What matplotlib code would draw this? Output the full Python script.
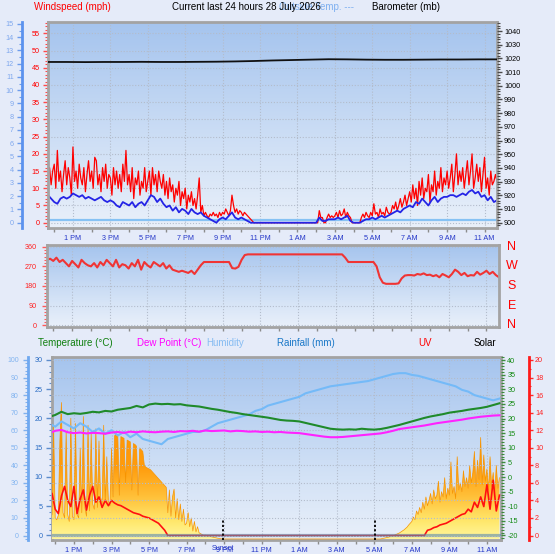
import numpy as np
import matplotlib.pyplot as plt
import matplotlib.transforms as mtransforms
from matplotlib.colors import LinearSegmentedColormap
from matplotlib.ticker import MultipleLocator

plt.rcParams['font.family'] = ['Liberation Sans', 'DejaVu Sans']
plt.rcParams['axes.unicode_minus'] = False

W, H = 555, 554

# time axis: hours since midnight of the first day
T0 = 11 + 40 / 60          # first sample 11:40
hour_ticks = [13, 15, 17, 19, 21, 23, 25, 27, 29, 31, 33, 35]
hour_labels = ['1 PM', '3 PM', '5 PM', '7 PM', '9 PM', '11 PM',
               '1 AM', '3 AM', '5 AM', '7 AM', '9 AM', '11 AM']
sunset = 20 + 56 / 60
sunrise = 29 + 2 / 60

# wind gust, 5 min samples (mph)
gust = [
    13, 16, 11, 15,
    17, 10, 21, 12, 15, 9, 14, 18, 11, 16, 13, 8,
    22, 12, 15, 10, 17, 13, 11, 16, 9, 14, 18, 12,
    15, 10, 19, 18, 11, 14, 9, 16, 12, 17, 10, 14,
    13, 8, 16, 11, 15, 10, 14, 9, 17, 12, 21, 11,
    14, 9, 16, 7, 13, 11, 15, 8, 12, 10, 16, 9,
    12, 15, 8, 16, 11, 14, 9, 15, 12, 10, 14, 8,
    12, 7, 13, 9, 11, 6, 10, 8, 12, 5, 9, 7,
    10, 4, 8, 6, 9, 5, 7, 4, 8, 13, 3, 5,
    2, 3, 2, 1.5, 2.5, 2, 3, 2, 2.5, 1.5, 3, 2,
    3, 2.5, 4, 3, 2, 3.5, 8, 5, 3, 4, 2.5, 3.5,
    3, 2, 3, 2.5, 2, 1.5, 1, 0.5, 0, 0, 0, 0,
    0, 0, 0, 0, 0, 0, 0, 0, 0, 0, 0, 0,
    0, 0, 0, 0, 0, 0, 0, 0, 0, 0, 0, 0,
    0, 0, 0, 0, 0, 0, 0, 0, 0, 0, 0, 0,
    0, 0, 3.5, 1.5, 1.5, 0, 0, 1.5, 2.5, 1.5, 2, 1.5,
    2, 3, 1.5, 3.5, 2, 2.5, 4, 1.5, 3, 2, 1.5, 0,
    0, 0, 0, 0, 0, 1.5, 2.5, 1.5, 3, 2, 1.5, 3,
    2, 5.5, 2.5, 3, 1.5, 4, 2.5, 3, 2, 4.5, 3, 2.5,
    3, 5, 4, 6, 3.5, 5, 7, 4.5, 6, 8, 5, 7,
    9, 6, 11, 7, 10, 5, 12, 8, 13, 7, 10, 9,
    14, 6, 11, 9, 15, 8, 12, 10, 16, 9, 13, 11,
    15, 10, 13, 17, 9, 14, 20, 11, 15, 12, 16, 10,
    14, 18, 11, 15, 20, 10, 13, 17, 12, 16, 9, 14,
    19, 10, 13, 8, 15, 11, 12, 14, 12,
]
# average wind, 10 min samples (mph)
wind_avg = [
    8, 7,
    6, 5.5, 7, 7.5, 7, 7.5,
    8.5, 8, 7.5, 8, 7, 7.5,
    7, 6.5, 7, 7.5, 6.5, 6,
    6.5, 6, 5, 4.5, 6, 5.5,
    5, 6, 4.5, 5.5, 6, 5,
    6.5, 8, 7.5, 6, 7, 5.5,
    4.5, 5, 3.5, 4.5, 3, 4,
    3.5, 2.5, 4, 3, 2.5, 3,
    2, 1.5, 1, 0.5, 0, 1,
    1.5, 1, 2, 3, 1.5, 1,
    1.5, 1, 0.5, 0, 0, 0,
    0, 0, 0, 0, 0, 0,
    0, 0, 0, 0, 0, 0,
    0, 0, 0, 0, 0, 0,
    0, 1.5, 0.5, 0.5, 1, 1,
    1, 1.5, 1, 1.5, 2, 0.5,
    0, 0, 0, 0.5, 1, 1,
    1.5, 1, 1.5, 2, 1.5, 2,
    2.5, 3, 3.5, 3, 4, 4.5,
    5, 4.5, 6, 5.5, 7, 6,
    5, 6.5, 7.5, 6, 7, 7.5,
    7.5, 8, 8, 7.5, 8, 8.5,
    8, 9, 9.5, 8.5, 9, 7.5,
    8, 6.5, 7.5, 6, 6.5,
]
calm_level = 0.9
# barometer, hourly (mb)
baro = [1017.4, 1017.4, 1017.3, 1017.4, 1017.4, 1017.5, 1017.4, 1017.4,
        1017.5, 1017.6, 1017.8, 1018.1, 1018.5, 1018.8, 1019.1, 1019.4,
        1019.3, 1019.1, 1019.0, 1019.0, 1019.1, 1019.2, 1019.2, 1019.3, 1019.3]

# wind direction, 10 min samples (deg)
wind_dir = [
    300, 305,
    295, 310, 290, 300, 285, 270,
    295, 280, 265, 300, 285, 275,
    270, 285, 265, 290, 275, 300,
    285, 270, 300, 265, 280, 275,
    260, 285, 270, 300, 255, 290,
    275, 265, 290, 280, 270, 285,
    260, 275, 255, 250, 245, 250,
    245, 240, 250, 235, 255, 275,
    290, 290, 290, 290, 290, 290,
    290, 290, 290, 262, 260, 268,
    300, 322, 325, 325, 325, 325,
    325, 325, 325, 325, 325, 325,
    325, 325, 325, 325, 325, 325,
    325, 325, 325, 325, 325, 325,
    325, 325, 325, 325, 325, 325,
    325, 325, 325, 310, 290, 290,
    290, 290, 290, 290, 290, 290,
    290, 270, 220, 195, 190, 190,
    190, 190, 192, 215, 228, 230,
    230, 228, 235, 232, 238, 230,
    232, 225, 230, 220, 235, 228,
    220, 235, 255, 245, 230, 240,
    225, 230, 228, 245, 232, 240,
    250, 235, 245, 230, 220,
]
compass_deg = [360, 270, 180, 90, 0]
compass_lab = ['N', 'W', 'S', 'E', 'N']

# temperature, dew point (C) and humidity (%), 20 min samples
temp = [20.5, 21.2, 22.3, 21.5, 21.8, 21.6, 21.9, 22.3, 22.1, 22.6,
        22.4, 23.0, 23.3, 23.6, 24.3, 23.8, 24.8, 25.1, 24.9, 25.0,
        24.8, 24.9, 24.5, 24.3, 24.1, 23.7, 23.3, 23.0, 22.6, 22.2,
        21.9, 21.5, 21.2, 20.9, 20.6, 20.3, 19.9, 19.5, 19.3, 19.2,
        19.0, 18.5, 18.0, 17.5, 17.0, 16.5, 16.3, 16.2, 16.3, 16.2,
        16.5, 16.3, 16.2, 16.4, 16.8, 17.3, 17.8, 18.4, 19.0, 19.6,
        20.2, 20.7, 21.1, 21.5, 22.0, 22.3, 22.6, 23.0, 23.3, 23.6,
        24.0, 24.6, 25.2]
dew = [14.9, 15.8, 16.1, 15.3, 15.0, 15.2, 14.9, 15.1, 15.0, 14.8,
       15.2, 15.4, 15.1, 15.5, 15.3, 15.6, 15.4, 15.3, 15.5, 15.6,
       15.4, 15.7, 15.6, 15.8, 15.5, 15.9, 15.7, 15.8, 15.9, 15.6,
       15.8, 15.7, 15.5, 15.6, 15.4, 15.5, 15.3, 15.4, 15.2, 15.1,
       15.0, 14.7, 14.4, 14.1, 13.8, 13.6, 13.6, 13.7, 13.9, 14.1,
       14.3, 14.5, 14.7, 14.9, 15.3, 15.8, 16.4, 16.7, 17.0, 17.3,
       17.6, 18.0, 18.4, 18.7, 19.0, 19.3, 19.6, 20.0, 20.3, 20.6,
       20.8, 21.0, 21.1]
hum = [64, 62, 65, 63, 61, 64, 62, 59, 61, 58,
       60, 57, 59, 56, 58, 55, 54, 53, 52, 55,
       56, 57, 58, 59, 59, 60, 62, 64, 65, 66,
       67, 68, 69, 71, 72, 74, 75, 76, 77, 78,
       79, 81, 82, 83, 84, 85, 85.5, 86, 86.5, 87,
       87.5, 88, 89, 90, 91, 92, 92.5, 92.5, 91.5, 91,
       90, 89, 88, 87, 86, 85, 83, 82, 80, 79,
       78, 77, 78]

# UV index, 10 min samples
uv = ([4.0, 4.8,
       3.0, 2.5, 4.5, 5.6, 4.0, 3.3,
       5.6, 2.5, 4.2, 5.2, 2.9, 4.6,
       5.6, 3.8, 4.4, 3.2, 4.0, 3.4,
       4.0, 3.7, 3.5, 3.4, 3.2, 3.0,
       2.8, 2.6, 2.5, 2.4, 2.2, 2.1,
       2.0, 1.8, 1.6, 1.4, 1.0, 0.6]
      + [0] * 83
      + [0.6,
         0.7, 0.9, 1.0, 1.2, 1.3, 1.4,
         1.6, 1.8, 2.0, 2.2, 2.4, 2.5,
         3.0, 2.7, 3.8, 3.2, 4.4, 3.3,
         5.8, 3.0, 6.3, 2.8, 4.6])

# solar radiation, 5 min samples (W/m2)
solar = ([130, 120, 140, 650,
          120, 110, 135, 560, 780, 150, 120, 610, 140, 100, 690, 130,
          110, 660, 140, 120, 520, 150, 700, 180, 130, 650, 160, 600,
          200, 170, 630, 180, 560, 240, 200, 650, 210, 470, 220, 190,
          520, 240, 590, 600, 595, 250, 585, 580, 575, 320, 565, 560,
          555, 280, 545, 540, 530, 250, 520, 510, 500, 420, 410, 405,
          400, 395, 385, 375, 365, 355, 345, 335, 325, 315, 305, 295,
          150, 280, 130, 240, 285, 120, 230, 110, 200, 100, 170, 80,
          90, 150, 70, 120, 45, 100, 40, 70, 35, 30, 25, 20,
          22, 18, 15, 16, 12, 10, 8, 6, 4, 3, 1, 0]
         + [0] * 96
         + [0, 0, 0, 0, 0, 2, 4, 6, 8, 10, 13, 16,
            19, 22, 26, 30, 34, 40, 46, 52, 60, 68, 80, 90,
            100, 125, 110, 160, 140, 180, 150, 210, 170, 240, 190, 220,
            260, 200, 280, 230, 250, 330, 210, 270, 240, 350, 230, 290,
            250, 440, 260, 300, 230, 470, 280, 320, 270, 390, 300, 350,
            290, 420, 320, 380, 500, 300, 450, 340, 580, 310, 480, 330,
            400, 280, 470, 300, 380, 260, 420, 290, 350])

# rainfall, hourly (mm)
rain = [0] * 25

t_gust = T0 + np.arange(len(gust)) / 12
t_avg = T0 + np.arange(len(wind_avg)) / 6
t_baro = T0 + np.arange(len(baro))
t_dir = T0 + np.arange(len(wind_dir)) / 6
t_th = T0 + np.arange(len(temp)) / 3
t_uv = T0 + np.arange(len(uv)) / 6
t_sol = T0 + np.arange(len(solar)) / 12
t_rain = T0 + np.arange(len(rain))


def box(left, top, right, bottom):
    return [left / W, 1 - bottom / H, (right - left) / W, (bottom - top) / H]


bg_cmap = LinearSegmentedColormap.from_list(
    'bg', [(0, '#e9f0fa'), (0.35, '#d3e2f6'), (1, '#a5c4ee')])
sol_cmap = LinearSegmentedColormap.from_list(
    'sol', [(0, '#fff7a0'), (0.1, '#ffe86c'), (0.25, '#ffbd35'),
            (0.4, '#ff9c0c'), (1, '#ff8a00')])
grad = np.linspace(0, 1, 256).reshape(-1, 1)
GRID = dict(color='#b3bccb', lw=0.8, ls=(0, (1, 1.6)))
XLAB = '#2436c8'


def background(ax):
    ax.imshow(grad, cmap=bg_cmap, extent=[0, 1, 0, 1], transform=ax.transAxes,
              origin='lower', aspect='auto', zorder=-5, interpolation='bilinear')
    for s in ax.spines.values():
        s.set_color('#a3a3a3')
        s.set_linewidth(2)


def time_axis(ax, labels):
    ax.set_xticks(hour_ticks, hour_labels if labels else [])
    ax.xaxis.set_minor_locator(MultipleLocator(1))
    ax.tick_params(axis='x', which='both', colors='#8c8c8c', labelcolor=XLAB,
                   length=3, width=1, labelsize=5.2, pad=2)


def yscale(ax, major, minor, color, labelcolor, length=5, pad=3, size=5.2):
    ax.yaxis.set_major_locator(MultipleLocator(major))
    ax.yaxis.set_minor_locator(MultipleLocator(minor))
    ax.tick_params(axis='y', which='major', colors=color, labelcolor=labelcolor,
                   length=length * 0.72, width=1, pad=pad * 0.72, labelsize=size)
    ax.tick_params(axis='y', which='minor', colors=color,
                   length=length * 0.42, width=0.8)


def twin(ax, side=None, offset=0, color=None):
    tw = ax.twinx()
    for k, s in tw.spines.items():
        s.set_visible(False)
    if side == 'left':
        tw.yaxis.set_ticks_position('left')
        tw.yaxis.set_label_position('left')
    if offset:
        sp = tw.spines[side]
        sp.set_visible(True)
        sp.set_position(('outward', offset * 0.72))
        sp.set_color(color)
        sp.set_linewidth(2)
    if side is None:
        tw.set_yticks([])
    return tw


fig = plt.figure(figsize=(W / 100, H / 100), dpi=100, facecolor='#e5ebf9')

# ---------------- wind speed / barometer ----------------
ax1 = fig.add_axes(box(48, 22, 497, 228))
background(ax1)
ax1_bf = twin(ax1, 'left', 26, '#5b92ee')
ax1_bar = twin(ax1, 'right')

ax1.axhline(calm_level, color='#86c2f4', lw=1.6)
ax1.plot(t_gust, gust, color='#ff0000', lw=0.9)
ax1.plot(t_avg, wind_avg, color='#2424e6', lw=1.3)
ax1_bar.plot(t_baro, baro, color='#101010', lw=1.3)

ax1.set_xlim(T0, T0 + 24)
ax1.set_ylim(-1.54, 58.3)
ax1_bf.set_ylim(-0.4, 15.15)
ax1_bar.set_ylim(896.1, 1046.6)
time_axis(ax1, True)
yscale(ax1, 5, 1, '#ff4a4a', '#ff0000', length=5, pad=3.5)
yscale(ax1_bf, 1, 0.5, '#6d9cec', '#7fa8ee', length=5, pad=3)
yscale(ax1_bar, 10, 2, '#4a4a4a', '#000000', length=5, pad=2)
ax1.grid(axis='both', which='major', **GRID)

fig.text(34 / W, 1 - 7 / H, 'Windspeed (mph)', color='#ff0000', fontsize=7, va='center')
fig.text(279 / W, 1 - 7 / H, 'Outside Temp. ---', color='#7fb0f0', fontsize=7, va='center')
fig.text(172 / W, 1 - 7 / H, 'Current last 24 hours 28 July 2026', color='#000000',
         fontsize=7, va='center')
fig.text(372 / W, 1 - 7 / H, 'Barometer (mb)', color='#000000', fontsize=7, va='center')

# ---------------- wind direction ----------------
ax2 = fig.add_axes(box(47, 245, 499, 327))
background(ax2)
ax2.plot(t_dir, wind_dir, color='#f03434', lw=1.5)
ax2.set_xlim(T0, T0 + 24)
ax2.set_ylim(-8, 368)
time_axis(ax2, False)
yscale(ax2, 90, 15, '#ff5a5a', '#ff2020', length=5, pad=5)
ax2.grid(axis='both', which='major', **GRID)
tr = mtransforms.blended_transform_factory(ax2.transAxes, ax2.transData)
for deg, lab in zip(compass_deg, compass_lab):
    ax2.text(1.028, deg, lab, transform=tr, ha='center', va='center',
             color='#ff0000', fontsize=9)

# ---------------- temperature / humidity / solar ----------------
ax3 = fig.add_axes(box(52, 357, 501, 540))
background(ax3)
ax3_sol = twin(ax3)
ax3_uv = twin(ax3, 'right', 28, '#ff1a1a')
ax3_rain = twin(ax3)
ax3_hum = twin(ax3, 'left', 24, '#6fa8f0')
ax3_t = twin(ax3, 'right')

poly = ax3_sol.fill_between(t_sol, 0, solar, facecolor='none', edgecolor='none')
im = ax3_sol.imshow(grad, cmap=sol_cmap, extent=[0, 1, 0, 1], transform=ax3_sol.transAxes,
                    origin='lower', aspect='auto', zorder=1, interpolation='bilinear')
im.set_clip_path(poly.get_paths()[0], transform=ax3_sol.transData)
ax3_sol.plot(t_sol, solar, color='#f79400', lw=0.5)

ax3_uv.plot(t_uv, uv, color='#ff1010', lw=1.2)
ax3_rain.plot(t_rain, rain, color='#5a8ab0', lw=2.3, alpha=0.6)
ax3_hum.plot(t_th, hum, color='#74baf8', lw=1.5)
ax3_t.plot(t_th, temp, color='#1f8a2a', lw=1.5)
ax3_t.plot(t_th, dew, color='#ff22ff', lw=1.5)

for t_sun in (sunset, sunrise):
    ax3_t.axvline(t_sun, ymin=0, ymax=0.11, color='#000000', lw=1.3,
                  ls=(0, (1.2, 1.2)))
ax3.text(sunset, -0.049, 'Sunset',
         transform=mtransforms.blended_transform_factory(ax3.transData, ax3.transAxes),
         ha='center', va='center', color=XLAB, fontsize=5.2)

ax3.set_xlim(11.83, 35.75)
ax3.set_ylim(-0.77, 30.51)
ax3_rain.set_ylim(-0.77, 30.51)
ax3_sol.set_ylim(-6, 1040)
ax3_hum.set_ylim(-2.56, 101.7)
ax3_t.set_ylim(-21.54, 41.03)
ax3_uv.set_ylim(-0.51, 20.34)
time_axis(ax3, True)
yscale(ax3, 5, 1, '#5c8ccc', '#2a6cc4', length=6, pad=3.3)
yscale(ax3_hum, 10, 2, '#7fb0ee', '#82b4f0', length=5, pad=4.4, size=5)
yscale(ax3_t, 5, 1, '#3c8a3c', '#138a13', length=4.3, pad=2)
yscale(ax3_uv, 2, 1, '#ff2a2a', '#ff2020', length=4, pad=2)
ax3.grid(axis='x', which='major', **GRID)
ax3_hum.grid(axis='y', which='major', **GRID)

y_hdr = 1 - 342.5 / H
fig.text(38 / W, y_hdr, 'Temperature (°C)', color='#0f7f0f', fontsize=7, va='center')
fig.text(137 / W, y_hdr, 'Dew Point (°C)', color='#ff00ff', fontsize=7, va='center')
fig.text(206 / W, y_hdr, 'Humidity', color='#86bcf2', fontsize=7, va='center')
fig.text(277 / W, y_hdr, 'Rainfall (mm)', color='#1a78c8', fontsize=7, va='center')
fig.text(418 / W, y_hdr, 'UV', color='#ff0000', fontsize=7, va='center')
fig.text(474 / W, y_hdr, 'Solar', color='#000000', fontsize=7, va='center')

fig.savefig('out.png', dpi=100, facecolor=fig.get_facecolor())
